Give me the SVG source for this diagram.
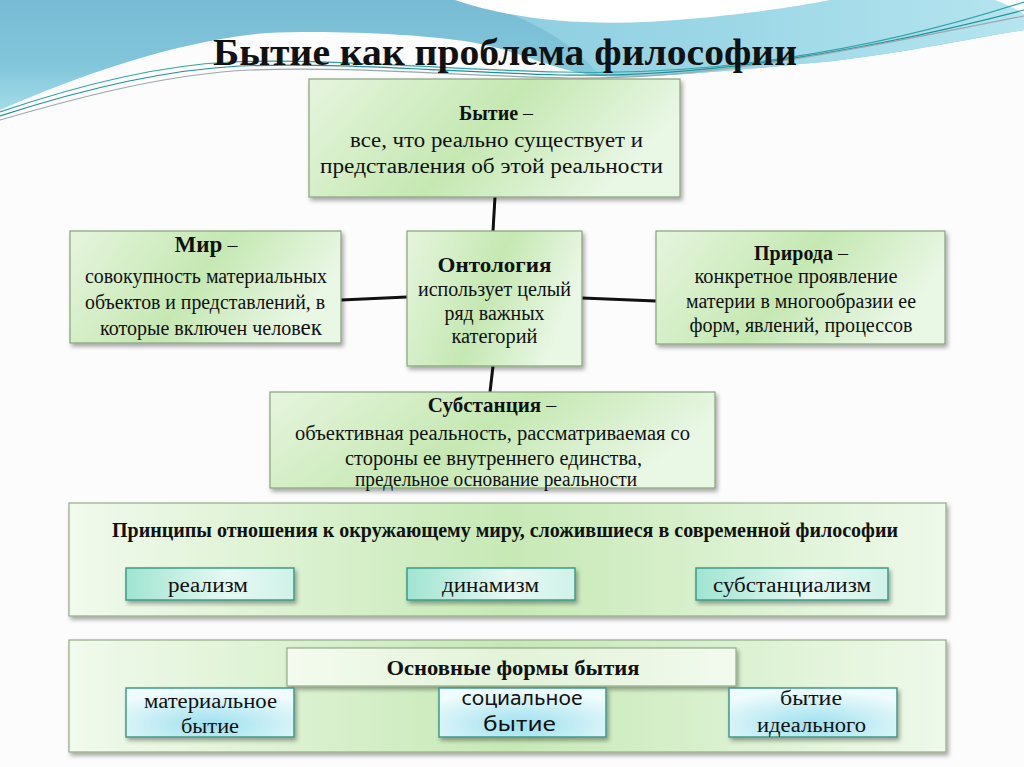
<svg xmlns="http://www.w3.org/2000/svg" width="1024" height="767" viewBox="0 0 1024 767" font-family="'Liberation Serif','Times New Roman','DejaVu Serif',serif">
<defs>
<linearGradient id="bgLeft" x1="0" y1="0" x2="0" y2="1">
<stop offset="0" stop-color="#78bbd4"/><stop offset="0.6" stop-color="#82c6db"/><stop offset="1" stop-color="#a3dce8"/>
</linearGradient>
<linearGradient id="bgRight" x1="0" y1="0" x2="1" y2="0">
<stop offset="0" stop-color="#8ccde0"/><stop offset="0.5" stop-color="#9ed8e7"/><stop offset="1" stop-color="#b5e5ef"/>
</linearGradient>
<linearGradient id="boxGrad" x1="0" y1="0" x2="1" y2="0.3">
<stop offset="0" stop-color="#e6f5de"/><stop offset="0.55" stop-color="#c5e8b2"/><stop offset="1" stop-color="#e9f7e5"/>
</linearGradient>
<linearGradient id="panelGrad" x1="0" y1="0" x2="1" y2="0">
<stop offset="0" stop-color="#f1faed"/><stop offset="0.5" stop-color="#c7e9b6"/><stop offset="1" stop-color="#eef9ea"/>
</linearGradient>
<linearGradient id="headGrad" x1="0" y1="0" x2="1" y2="0">
<stop offset="0" stop-color="#f4fbef"/><stop offset="0.5" stop-color="#e2f3d8"/><stop offset="1" stop-color="#f2faee"/>
</linearGradient>
<linearGradient id="subGrad" x1="0" y1="0" x2="1" y2="0">
<stop offset="0" stop-color="#a0e4d1"/><stop offset="0.6" stop-color="#e6f9f3"/><stop offset="1" stop-color="#d0f2e9"/>
</linearGradient>
<radialGradient id="formGrad" cx="0.5" cy="0.75" r="0.7">
<stop offset="0" stop-color="#9ce0ee"/><stop offset="1" stop-color="#effbfc"/>
</radialGradient>
<filter id="sh" x="-10%" y="-10%" width="120%" height="130%">
<feDropShadow dx="2" dy="3" stdDeviation="2" flood-color="#000" flood-opacity="0.35"/>
</filter>
</defs>
<style>
text{font-family:"Liberation Serif","Times New Roman","DejaVu Serif",serif;fill:#111;}
.t{font-size:20px;text-anchor:middle;}
.b{font-weight:bold;}
.sans{font-family:"Noto Sans","Open Sans",sans-serif;}
.box{fill:url(#boxGrad);stroke:#86a27c;stroke-width:1.2;filter:url(#sh);}
.panel{fill:url(#panelGrad);stroke:#94ab8a;stroke-width:1.2;filter:url(#sh);}
.head{fill:url(#headGrad);stroke:#94ab8a;stroke-width:1.2;filter:url(#sh);}
.sub{fill:url(#subGrad);stroke:#3f9a88;stroke-width:1.5;filter:url(#sh);}
.form{fill:url(#formGrad);stroke:#3f9a88;stroke-width:1.5;filter:url(#sh);}
.conn{stroke:#111;stroke-width:3;fill:none;}
.wave{fill:none;stroke-width:1.2;}
</style>
<rect x="0" y="0" width="1024" height="767" fill="#fcfcfc"/>
<path d="M0,0 H1024 V30 C 960,40 880,58 800,64 C 720,72 650,78 600,76 C 555,72 520,50 470,42 C 420,34 330,30 267,33 C 180,40 80,75 0,110 Z" fill="url(#bgLeft)"/>
<path d="M470,0 H1024 V30 C 960,40 880,58 800,64 C 720,72 650,78 600,76 C 580,50 540,20 470,0 Z" fill="url(#bgRight)"/>
<path d="M455,0 C 520,22 600,28 700,18 C 760,12 800,6 830,0 Z" fill="#ffffff"/>
<path d="M995,0 L1024,0 L1024,14 C 1015,8 1005,4 995,0 Z" fill="#ffffff"/>
<path class="wave" stroke="#2fa3a8" d="M0,112 C 70,88 150,66 230,62 C 330,58 450,70 560,72 C 700,76 860,55 1024,2"/>
<path class="wave" stroke="#1f8f9a" d="M0,116 C 80,90 160,70 240,66 C 340,62 450,72 560,75 C 710,78 870,50 1024,10"/>
<path class="wave" stroke="#9aa7ad" d="M0,120 C 90,94 170,74 250,70 C 350,66 460,76 570,78 C 720,80 880,44 1024,16"/>
<text x="213" y="65" font-size="38" font-weight="bold" textLength="584" lengthAdjust="spacingAndGlyphs">Бытие как проблема философии</text>

<g id="connectors">
<line class="conn" x1="495" y1="197" x2="493" y2="231"/>
<line class="conn" x1="341" y1="300" x2="407" y2="297"/>
<line class="conn" x1="582" y1="298" x2="656" y2="301"/>
<line class="conn" x1="493" y1="366" x2="490" y2="392"/>
</g>

<g id="node-bytie">
<rect class="box" x="309" y="79" width="371" height="118"/>
<text class="t" x="496" y="120"><tspan class="b">Бытие</tspan> –</text>
<text class="t" x="496.5" y="147" textLength="293" lengthAdjust="spacingAndGlyphs">все, что реально существует и</text>
<text class="t" x="491.5" y="173" textLength="343" lengthAdjust="spacingAndGlyphs">представления об этой реальности</text>
</g>

<g id="node-mir">
<rect class="box" x="70" y="231" width="271" height="112"/>
<text class="t" x="206" y="252"><tspan class="b" font-size="23">Мир</tspan> –</text>
<text class="t" x="206" y="283" textLength="242" lengthAdjust="spacingAndGlyphs">совокупность материальных</text>
<text class="t" x="205" y="309" textLength="240" lengthAdjust="spacingAndGlyphs">объектов и представлений, в</text>
<text class="t" x="211" y="335">которые включен челов<tspan font-size="23">ек</tspan></text>
</g>

<g id="node-ontology">
<rect class="box" x="407" y="231" width="175" height="135"/>
<text class="t b" x="494.5" y="272" textLength="114" lengthAdjust="spacingAndGlyphs">Онтология</text>
<text class="t" x="494.5" y="296" textLength="153" lengthAdjust="spacingAndGlyphs">использует целый</text>
<text class="t" x="494.5" y="320" textLength="100" lengthAdjust="spacingAndGlyphs">ряд важных</text>
<text class="t" x="494.5" y="343" textLength="86" lengthAdjust="spacingAndGlyphs">категорий</text>
</g>

<g id="node-priroda">
<rect class="box" x="656" y="231" width="289" height="113"/>
<text class="t" x="801" y="260"><tspan class="b">Природа</tspan> –</text>
<text class="t" x="796" y="283" textLength="203" lengthAdjust="spacingAndGlyphs">конкретное проявление</text>
<text class="t" x="801" y="308" textLength="230" lengthAdjust="spacingAndGlyphs">материи в многообразии ее</text>
<text class="t" x="801" y="332" textLength="223" lengthAdjust="spacingAndGlyphs">форм, явлений, процессов</text>
</g>

<g id="node-substance">
<rect class="box" x="270" y="392" width="445" height="96"/>
<text class="t" x="492" y="412"><tspan class="b" font-size="21">Субстанция</tspan> –</text>
<text class="t" x="492.5" y="440" textLength="395" lengthAdjust="spacingAndGlyphs">объективная реальность, рассматриваемая со</text>
<text class="t" x="493.5" y="465" textLength="297" lengthAdjust="spacingAndGlyphs">стороны ее внутреннего единства,</text>
<text class="t" x="496" y="486" textLength="282" lengthAdjust="spacingAndGlyphs">предельное основание реальности</text>
</g>

<g id="node-principles">
<rect class="panel" x="69" y="503" width="877" height="113"/>
<text class="t b" x="505" y="537" font-size="18" textLength="786" lengthAdjust="spacingAndGlyphs">Принципы отношения к окружающему миру, сложившиеся в современной философии</text>
</g>
<g id="node-realism">
<rect class="sub" x="126" y="568" width="168" height="32"/>
<text class="t" x="208" y="592" textLength="80" lengthAdjust="spacingAndGlyphs">реализм</text>
</g>
<g id="node-dynamism">
<rect class="sub" x="407" y="568" width="168" height="32"/>
<text class="t" x="490.5" y="592" textLength="97" lengthAdjust="spacingAndGlyphs">динамизм</text>
</g>
<g id="node-substantialism">
<rect class="sub" x="696" y="568" width="192" height="32"/>
<text class="t" x="792" y="592" textLength="158" lengthAdjust="spacingAndGlyphs">субстанциализм</text>
</g>

<g id="node-forms">
<rect class="panel" x="69" y="640" width="877" height="112"/>
<rect class="head" x="287" y="648" width="449" height="38"/>
<text class="t b" x="513" y="675" textLength="253" lengthAdjust="spacingAndGlyphs">Основные формы бытия</text>
</g>
<g id="node-material">
<rect class="form" x="126" y="688" width="168" height="49"/>
<text class="t" x="210.5" y="708" font-size="21" textLength="133" lengthAdjust="spacingAndGlyphs">материальное</text>
<text class="t" x="210" y="733" font-size="21" textLength="58" lengthAdjust="spacingAndGlyphs">бытие</text>
</g>
<g id="node-social">
<rect class="form" x="439" y="688" width="167" height="49"/>
<text class="t sans" x="522" y="705" font-size="20" textLength="121" lengthAdjust="spacingAndGlyphs">социальное</text>
<text class="t sans" x="519.5" y="731" font-size="20" textLength="73" lengthAdjust="spacingAndGlyphs">бытие</text>
</g>
<g id="node-ideal">
<rect class="form" x="729" y="688" width="168" height="49"/>
<text class="t" x="811" y="705" font-size="21" textLength="62" lengthAdjust="spacingAndGlyphs">бытие</text>
<text class="t" x="811.5" y="732" font-size="21" textLength="109" lengthAdjust="spacingAndGlyphs">идеального</text>
</g>
</svg>
